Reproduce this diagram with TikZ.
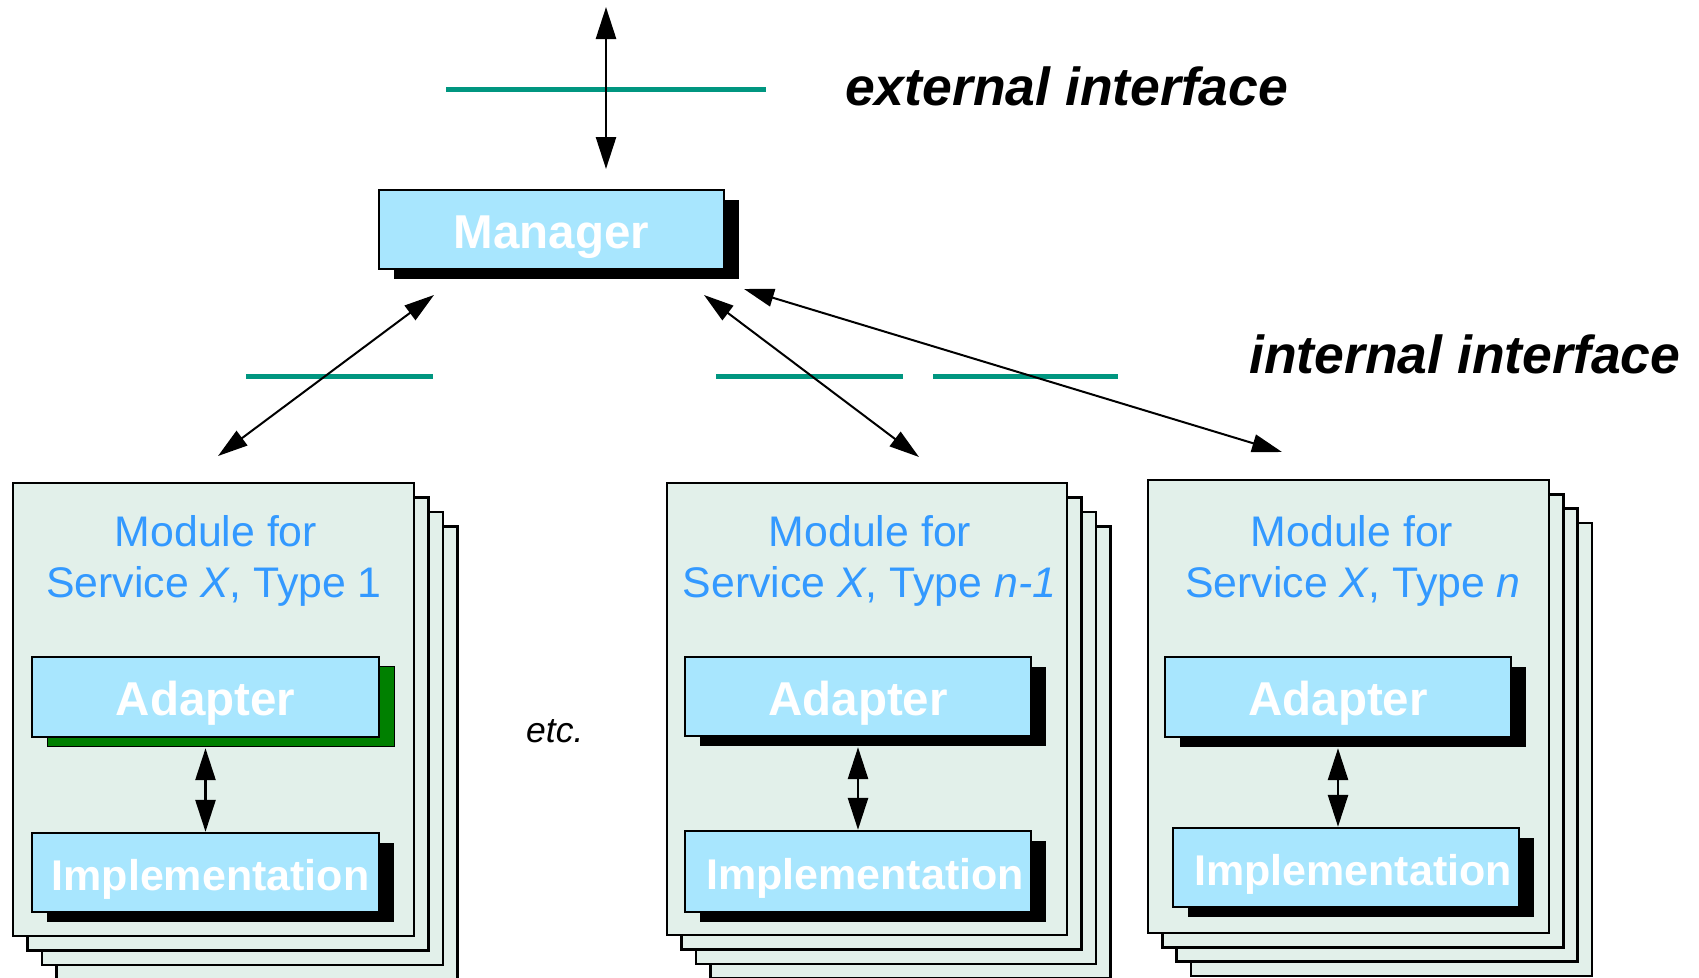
\documentclass[tikz,border=0pt]{standalone}
\usepackage{fontspec}
\setmainfont{Liberation Sans}
\usetikzlibrary{arrows.meta,shadows}
\definecolor{boxfill}{RGB}{168,230,254}
\definecolor{modfill}{RGB}{226,240,234}
\definecolor{modtext}{RGB}{51,153,255}
\definecolor{ifline}{RGB}{0,150,128}
\definecolor{shgreen}{RGB}{0,128,0}
\begin{document}
\begin{tikzpicture}[x=1pt,y=-1pt,
  box/.style={draw=black,line width=2.4pt,fill=boxfill,inner sep=0pt,text=white,
    font=\fontsize{47.5}{56}\selectfont\bfseries,text height=37pt,text depth=0pt},
  implbox/.style={box,font=\fontsize{43}{50}\selectfont\bfseries,text height=36pt},
  shadowblack/.style={drop shadow={shadow xshift=15pt,shadow yshift=-9.5pt,fill=black,opacity=1}},
  shadowgreen/.style={drop shadow={shadow xshift=15pt,shadow yshift=-9.5pt,fill=shgreen,draw=black,line width=1pt,opacity=1}},
  module/.style={draw=black,line width=2.4pt,fill=modfill,inner sep=0pt,minimum width=401pt,minimum height=453pt},
  modlabel/.style={text=modtext,font=\fontsize{42.8}{50}\selectfont,inner sep=0pt,anchor=base},
  ifacelabel/.style={font=\fontsize{53.5}{60}\selectfont\bfseries\itshape,inner sep=0pt,anchor=base west},
  iface/.style={draw=ifline,line width=5pt},
  bigarrow/.style={line width=2.7pt,{Triangle[length=32pt,width=20pt]}-{Triangle[length=32pt,width=20pt]}},
  diagarrow/.style={line width=2pt,{Triangle[length=30pt,width=18pt]}-{Triangle[length=30pt,width=18pt]}}
]
\useasboundingbox (0,0) rectangle (1699,977);

% interface lines
\draw[iface] (446,89) -- (766,89);
\draw[iface] (246,376) -- (433,376);
\draw[iface] (716,376) -- (903,376);
\draw[iface] (933,376) -- (1118,376);

% labels
\node[ifacelabel] (ext) at (845,105) {external interface};
\node[ifacelabel] (int) at (1249,373) {internal interface};
\node[font=\fontsize{35.5}{40}\selectfont\itshape,inner sep=0pt,anchor=base west] (etc) at (526,742) {etc.};

% manager
\node[box,minimum width=345pt,minimum height=79pt,shadowblack] (mgr) at (551.5,229.5) {Manager};

% external arrow
\coordinate (extT) at (606,7);
\coordinate (extB) at (606,169);
\draw[bigarrow] (extT) -- (extB);

% ---------- stack 1
\foreach \k in {3,2,1}
  \node[module,xshift=\k*14.5pt,yshift=-\k*14.5pt] (m1b\k) at (213.5,709.5) {};
\node[module] (m1) at (213.5,709.5) {};
\node[modlabel] (m1t1) at (216,546) {Module for};
\node[modlabel] (m1t2) at (214,597) {Service \textit{X}, Type 1};
\node[box,minimum width=347pt,minimum height=80pt,shadowgreen] (a1) at (205.5,697) {Adapter};
\node[implbox,minimum width=347pt,minimum height=79pt,shadowblack] (i1) at (205.5,872.5) {\hspace*{10pt}Implementation};
\draw[bigarrow] ([yshift=-10pt]a1.south) -- (a1.south |- i1.north);

% ---------- stack 2
\foreach \k in {3,2,1}
  \node[module,minimum width=400pt,minimum height=452pt,xshift=\k*14.5pt,yshift=-\k*14.5pt] (m2b\k) at (867,709) {};
\node[module,minimum width=400pt,minimum height=452pt] (m2) at (867,709) {};
\node[modlabel] (m2t1) at (870,546) {Module for};
\node[modlabel] (m2t2) at (869.5,597) {Service \textit{X}, Type \textit{n-1}};
\node[box,minimum width=346pt,minimum height=79pt,shadowblack] (a2) at (858,696.5) {Adapter};
\node[implbox,minimum width=346pt,minimum height=81pt,shadowblack] (i2) at (858,871.5) {\hspace*{14pt}Implementation};
\draw[bigarrow] ([yshift=-10pt]a2.south) -- (a2.south |- i2.north);

% ---------- stack 3
\foreach \k in {3,2,1}
  \node[module,xshift=\k*14.3pt,yshift=-\k*14.3pt] (m3b\k) at (1348.5,706.5) {};
\node[module] (m3) at (1348.5,706.5) {};
\node[modlabel] (m3t1) at (1352,546) {Module for};
\node[modlabel] (m3t2) at (1353,597) {Service \textit{X}, Type \textit{n}};
\node[box,minimum width=346pt,minimum height=80pt,shadowblack] (a3) at (1338,697) {Adapter};
\node[implbox,minimum width=346pt,minimum height=79pt,shadowblack] (i3) at (1346,867.5) {\hspace*{14pt}Implementation};
\draw[bigarrow] ([yshift=-10pt]a3.south) -- (a3.south |- i3.north);

% internal arrows
\coordinate (d1a) at (218,456);
\coordinate (d1b) at (434,295);
\coordinate (d2a) at (704,295);
\coordinate (d2b) at (919,457);
\coordinate (d3a) at (744,289);
\coordinate (d3b) at (1282,452);
\draw[diagarrow] (d1a) -- (d1b);
\draw[diagarrow] (d2a) -- (d2b);
\draw[diagarrow] (d3a) -- (d3b);
\end{tikzpicture}
\end{document}
